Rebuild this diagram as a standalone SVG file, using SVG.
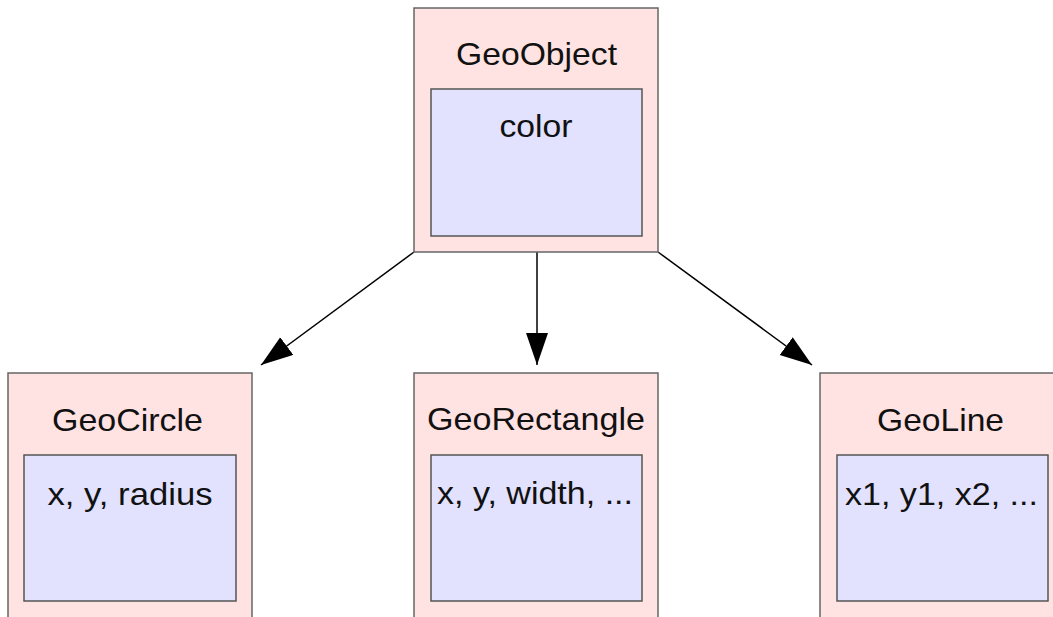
<svg xmlns="http://www.w3.org/2000/svg" width="1053" height="617" viewBox="0 0 1053 617">
<style>
.outer{fill:#ffe2e2;stroke:#666;stroke-width:1.5}
.inner{fill:#e2e2ff;stroke:#555;stroke-width:1.5}
text{font-family:"Liberation Sans",Arial,sans-serif;font-size:32px;fill:#111;text-anchor:middle}
.edge{stroke:#000;stroke-width:1.5;fill:none}
</style>
<defs>
<marker id="arr" markerUnits="userSpaceOnUse" markerWidth="34" markerHeight="24" refX="32" refY="11" orient="auto">
<path d="M0,0 L32,11 L0,22 Z" fill="#000"/>
</marker>
</defs>
<rect width="1053" height="617" fill="#fff"/>
<g id="connectors">
<line class="edge" x1="537" y1="252" x2="537" y2="365" marker-end="url(#arr)"/>
<line class="edge" x1="414" y1="252" x2="261" y2="365" marker-end="url(#arr)"/>
<line class="edge" x1="658" y1="252" x2="812" y2="365" marker-end="url(#arr)"/>
</g>
<g id="GeoObject">
<rect class="outer" x="414" y="8" width="244" height="244"/>
<rect class="inner" x="431" y="89" width="211" height="147"/>
<text x="536.5" y="65" textLength="161" lengthAdjust="spacingAndGlyphs">GeoObject</text>
<text x="536" y="137" textLength="73" lengthAdjust="spacingAndGlyphs">color</text>
</g>
<g id="GeoCircle">
<rect class="outer" x="8" y="373" width="244" height="260"/>
<rect class="inner" x="24" y="455" width="212" height="146"/>
<text x="127.5" y="431" textLength="151" lengthAdjust="spacingAndGlyphs">GeoCircle</text>
<text x="130" y="505" textLength="165" lengthAdjust="spacingAndGlyphs">x, y, radius</text>
</g>
<g id="GeoRectangle">
<rect class="outer" x="414" y="373" width="244" height="260"/>
<rect class="inner" x="431" y="455" width="211" height="146"/>
<text x="536" y="430" textLength="218" lengthAdjust="spacingAndGlyphs">GeoRectangle</text>
<text x="535" y="504" textLength="196" lengthAdjust="spacingAndGlyphs">x, y, width, ...</text>
</g>
<g id="GeoLine">
<rect class="outer" x="820" y="373" width="244" height="260"/>
<rect class="inner" x="837" y="455" width="211" height="146"/>
<text x="940.5" y="431" textLength="127" lengthAdjust="spacingAndGlyphs">GeoLine</text>
<text x="941.5" y="505" textLength="193" lengthAdjust="spacingAndGlyphs">x1, y1, x2, ...</text>
</g>
</svg>
